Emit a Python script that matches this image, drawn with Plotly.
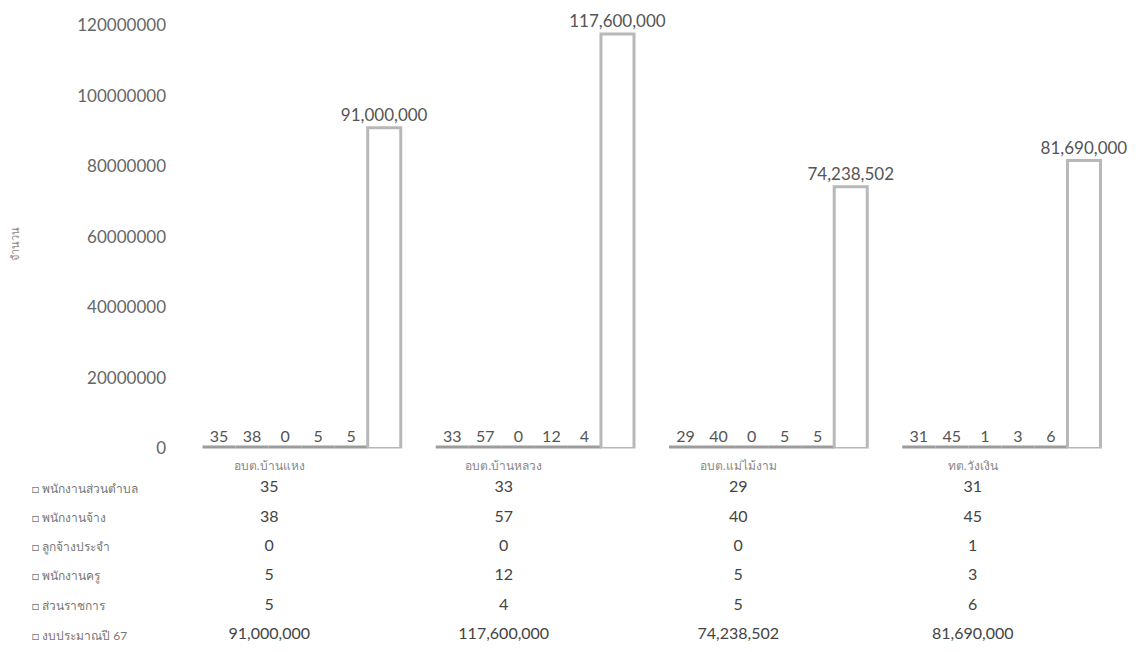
import plotly.graph_objects as go

categories = ["อบต.บ้านแหง", "อบต.บ้านหลวง", "อบต.แม่ไม้งาม", "ทต.วังเงิน"]
series_names = ["พนักงานส่วนตำบล", "พนักงานจ้าง", "ลูกจ้างประจำ", "พนักงานครู", "ส่วนราชการ", "งบประมาณปี 67"]
v_staff = [35, 33, 29, 31]
v_contract = [38, 57, 40, 45]
v_permanent = [0, 0, 0, 1]
v_teacher = [5, 12, 5, 3]
v_division = [5, 4, 5, 6]
v_budget = [91000000, 117600000, 74238502, 81690000]
y_ticks = [0, 20000000, 40000000, 60000000, 80000000, 100000000, 120000000]
y_title = "จำนวน"

series_values = [v_staff, v_contract, v_permanent, v_teacher, v_division, v_budget]

FONT = "Lato, 'Noto Sans', sans-serif"
TXT = "#555555"

fig = go.Figure()
for i, (name, vals) in enumerate(zip(series_names, series_values)):
    big = i == 5
    labels = [f"{v:,}" for v in vals]
    fig.add_trace(go.Bar(
        x=categories, y=vals, name=name,
        text=labels, textposition="outside", constraintext="none",
        textfont=dict(size=17 if big else 16, color=TXT, family=FONT),
        marker=dict(color="#ffffff" if big else "#9c9c9c",
                    line=dict(color="#b8b8b8" if big else "#9c9c9c", width=3 if big else 6)),
        cliponaxis=False, showlegend=False,
        xaxis="x", yaxis="y",
    ))

# data table
for i, (name, vals) in enumerate(zip(series_names, series_values)):
    fig.add_trace(go.Scatter(
        x=categories, y=[name] * len(vals),
        text=[f"{v:,}" for v in vals], mode="text",
        textfont=dict(size=16, color="#444444", family=FONT),
        showlegend=False, xaxis="x2", yaxis="y2", hoverinfo="skip",
        cliponaxis=False,
    ))
    fig.add_annotation(
        x=0.026, xref="paper", y=name, yref="y2", xanchor="left",
        text="□ " + name, showarrow=False,
        font=dict(size=12, color="#777777", family=FONT),
    )

fig.add_annotation(
    x=6 / 1145, xref="paper", y=0.63, yref="paper", text=y_title, showarrow=False,
    textangle=-90, font=dict(size=11, color="#888888", family=FONT),
)

fig.update_layout(
    width=1145, height=652,
    margin=dict(l=0, r=0, t=0, b=0),
    paper_bgcolor="white", plot_bgcolor="white",
    barmode="group", bargap=0.15, bargroupgap=0.0,
    font=dict(family=FONT, color=TXT),
    xaxis=dict(domain=[185 / 1145, 1118 / 1145], showticklabels=False, showgrid=False,
               zeroline=False, showline=False, anchor="y"),
    yaxis=dict(domain=[1 - 452 / 652, 1 - 15 / 652], range=[0, 120000000],
               tickvals=y_ticks, ticktext=[str(v) for v in y_ticks],
               tickfont=dict(size=17, color="#666666", family=FONT),
               showgrid=False, zeroline=False, showline=False,
               ticklabeloverflow="allow",
               ticklabelstandoff=18, anchor="x"),
    xaxis2=dict(domain=[152 / 1145, 1090 / 1145], side="top", anchor="y2",
                range=[-0.5, 3.5],
                categoryorder="array", categoryarray=categories,
                tickfont=dict(size=12, color="#888888", family=FONT),
                showgrid=False, zeroline=False, showline=False, ticks=""),
    yaxis2=dict(domain=[0, 1 - 477.8 / 652], range=[5.23, -0.5],
                categoryorder="array", categoryarray=series_names,
                showticklabels=False, showgrid=False, zeroline=False, showline=False,
                anchor="x2"),
)

fig.write_html("out.html")
